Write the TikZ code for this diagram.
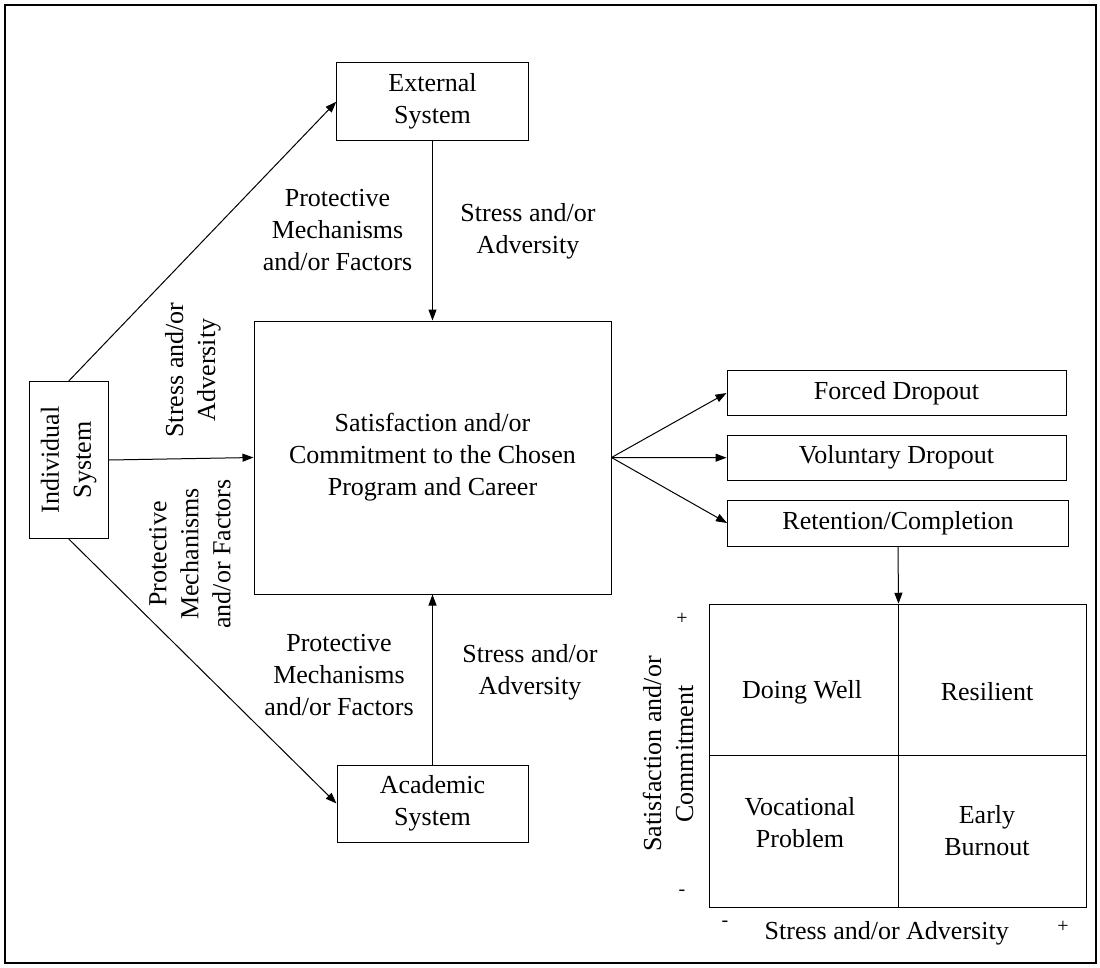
\documentclass[tikz,border=0pt]{standalone}
\usepackage{fontspec}
\setmainfont{Liberation Serif}
\usetikzlibrary{arrows.meta}
\begin{document}
\begin{tikzpicture}[x=1pt,y=-1pt,
  every node/.style={font=\fontsize{26}{32}\selectfont, inner sep=0pt, align=center},
  box/.style={draw, line width=1pt},
  cell/.style={draw, line width=1pt, minimum width=188.7pt, minimum height=151.5pt},
  arr/.style={draw, line width=1pt, -{Triangle[length=11pt,width=8pt]}},
  small/.style={font=\fontsize{20}{24}\selectfont}]
\useasboundingbox (0,0) rectangle (1100,967);
\draw[line width=2pt] (5,5) rectangle (1096,963);
% boxes
\node[box, minimum width=191.5pt, minimum height=77.7pt] (ext) at (432.5,101.75) {External\\System};
\node[box, minimum width=357pt, minimum height=273pt] (cen) at (432.5,457.5) {Satisfaction and/or\\Commitment to the Chosen\\Program and Career};
\node[box, minimum width=157pt, minimum height=78.5pt, rotate=90] (ind) at (68.75,460) {Individual\\System};
\node[box, minimum width=191pt, minimum height=77pt] (aca) at (432.5,803.5) {Academic\\System};
\node[box, minimum width=339pt, minimum height=45pt] (frc) at (896.5,393) {Forced Dropout};
\node[box, minimum width=339pt, minimum height=45pt] (vol) at (896.5,457.7) {Voluntary Dropout};
\node[box, minimum width=341pt, minimum height=46pt] (ret) at (898,523) {Retention/Completion};
% quadrant
\node[cell] (dw) at (803.65,680) {};
\node[cell] (rs) at (992.35,680) {};
\node[cell] (vp) at (803.65,831.5) {};
\node[cell] (eb) at (992.35,831.5) {};
\node (tdw) at (802,692) {Doing Well};
\node (trs) at (987,692) {Resilient};
\node (tvp) at (800,823) {Vocational\\Problem};
\node (teb) at (987,831) {Early\\Burnout};
% connectors
\draw[arr] (ind.east) -- (ext.west);
\draw[arr] (ind.west) -- (aca.west);
\draw[arr] (ind.south) -- (cen.west);
\draw[arr] (ext.south) -- (cen.north);
\draw[arr] (aca.north) -- (cen.south);
\draw[arr] (cen.east) -- (frc.west);
\draw[arr] (cen.east) -- (vol.west);
\draw[arr] (cen.east) -- (ret.west);
\draw[arr] (ret.south) -- (dw.north east);
% edge labels
\node (l1) at (337.5,230) {Protective\\Mechanisms\\and/or Factors};
\node (l2) at (528,231) {Stress and/or\\Adversity};
\node (l3) at (339,675) {Protective\\Mechanisms\\and/or Factors};
\node (l4) at (530,672) {Stress and/or\\Adversity};
\node[rotate=90] (l5) at (193,370) {Stress and/or\\Adversity};
\node[rotate=90] (l6) at (190,554) {Protective\\Mechanisms\\and/or Factors};
% axes
\node[rotate=90] (ya) at (668,754) {Satisfaction and/or\\Commitment};
\node (xa) at (886.7,933) {Stress and/or Adversity};
\node[small] (yp) at (682,619) {+};
\node[small] (ym) at (682,893) {-};
\node[small] (xm) at (725,924) {-};
\node[small] (xp) at (1063,927) {+};
\end{tikzpicture}
\end{document}
